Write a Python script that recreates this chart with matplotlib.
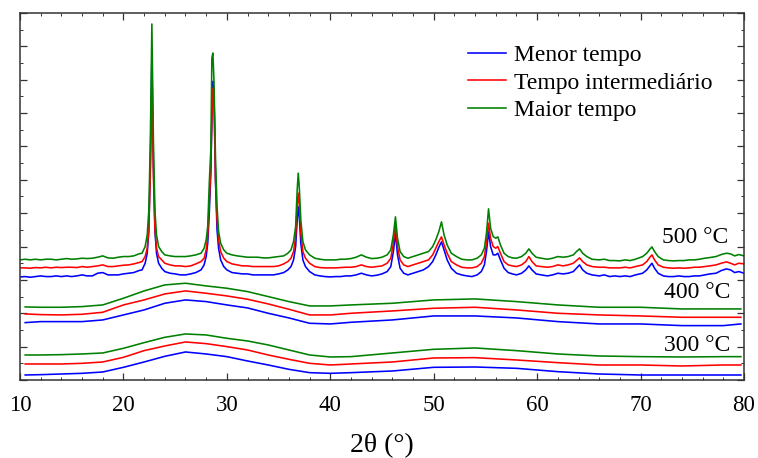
import matplotlib
matplotlib.use("Agg")
import matplotlib.pyplot as plt
from matplotlib.ticker import MultipleLocator

plt.rcParams['font.family'] = ['Liberation Serif', 'DejaVu Serif']
plt.rcParams['mathtext.fontset'] = 'stix'

# ---------------- data ----------------
series_labels = ["Menor tempo", "Tempo intermediário", "Maior tempo"]
series_colors = ["#0000ff", "#ff0000", "#008000"]
temp_labels = ["500 °C", "400 °C", "300 °C"]

# 500 °C patterns (crystalline) - shared 2theta grid
x500 = [10, 10.5, 11, 11.5, 12, 12.5, 13, 13.5, 14, 14.5, 15, 15.5, 16, 16.5, 17, 17.5, 18, 18.5, 19, 19.5, 20, 20.5, 21, 21.5,
        21.8, 22.1, 22.3, 22.45, 22.6, 22.75, 22.9, 23.05, 23.2, 23.4, 23.7, 24.0,
        24.5, 25, 25.5, 26, 26.5, 27, 27.5,
        27.8, 28.0, 28.15, 28.3, 28.45, 28.55, 28.65, 28.75, 28.9, 29.05, 29.2, 29.4, 29.7, 30.0,
        30.5, 31, 31.5, 32, 32.5, 33, 33.5, 34, 34.5, 35, 35.5,
        35.9, 36.2, 36.45, 36.65, 36.8, 36.9, 37.0, 37.15, 37.35, 37.6, 38.0,
        38.5, 39, 39.5, 40, 40.5, 41, 41.5, 42, 42.5, 43, 43.5, 44, 44.5, 45,
        45.5, 45.85, 46.1, 46.3, 46.5, 46.75, 47.1,
        47.5, 48, 48.5, 49,
        49.5, 49.9, 50.2, 50.5, 50.75, 51.0, 51.3, 51.7, 52.2,
        52.7, 53.2, 53.7, 54.2,
        54.6, 54.9, 55.1, 55.3, 55.5, 55.75, 56.0, 56.2, 56.45, 56.8, 57.2,
        57.6, 58.0, 58.5,
        58.9, 59.2, 59.5, 59.9,
        60.4, 61, 61.5, 62, 62.5, 63,
        63.5, 63.8, 64.1, 64.4, 64.8,
        65.3, 66, 66.5, 67, 67.5, 68, 68.5, 69, 69.5,
        70.2, 70.6, 70.9, 71.1, 71.35, 71.7, 72.2,
        72.7, 73.2, 73.7, 74.2, 74.7, 75.2, 75.7, 76.2, 76.7,
        77.3, 77.8, 78.3, 78.7, 79.1, 79.5, 80.0]

y500_menor = [3.09, 3.10, 3.08, 3.10, 3.12, 3.10, 3.10, 3.12, 3.10, 3.12, 3.10, 3.12, 3.15, 3.12, 3.12, 3.20, 3.22, 3.15, 3.15, 3.15, 3.18, 3.20, 3.22, 3.28,
              3.30, 3.50, 3.80, 4.45, 6.40, 9.68, 6.40, 4.45, 3.80, 3.50, 3.35, 3.25,
              3.20, 3.18, 3.15, 3.15, 3.18, 3.22, 3.30,
              3.45, 3.70, 4.10, 5.00, 6.20, 7.80, 8.95, 8.70, 6.00, 4.50, 3.95, 3.60, 3.40, 3.30,
              3.22, 3.20, 3.18, 3.18, 3.15, 3.15, 3.15, 3.15, 3.15, 3.18, 3.22,
              3.30, 3.40, 3.60, 4.00, 4.80, 5.19, 4.90, 4.10, 3.60, 3.40, 3.25,
              3.15, 3.12, 3.10, 3.09, 3.10, 3.10, 3.12, 3.12, 3.15, 3.20, 3.15, 3.12, 3.14, 3.18,
              3.25, 3.40, 3.85, 4.40, 3.75, 3.35, 3.20,
              3.15, 3.20, 3.25, 3.30,
              3.40, 3.55, 3.75, 3.98, 4.14, 3.90, 3.60, 3.35, 3.20,
              3.15, 3.12, 3.10, 3.15,
              3.25, 3.45, 3.85, 4.44, 4.00, 3.75, 3.75, 3.80, 3.60, 3.35, 3.22,
              3.18, 3.15, 3.20,
              3.30, 3.42, 3.30, 3.18,
              3.15, 3.12, 3.15, 3.20, 3.18, 3.20,
              3.25, 3.35, 3.45, 3.30, 3.20,
              3.15, 3.12, 3.15, 3.10, 3.12, 3.10, 3.12, 3.10, 3.15,
              3.20, 3.30, 3.42, 3.50, 3.35, 3.20, 3.12,
              3.10, 3.10, 3.12, 3.10, 3.10, 3.12, 3.12, 3.15, 3.18,
              3.20, 3.28, 3.33, 3.30, 3.22, 3.25, 3.20]

y500_inter = [3.36, 3.36, 3.35, 3.37, 3.36, 3.38, 3.36, 3.38, 3.37, 3.38, 3.38, 3.37, 3.40, 3.38, 3.40, 3.42, 3.45, 3.40, 3.40, 3.42, 3.44, 3.45, 3.48, 3.52,
              3.55, 3.70, 3.95, 4.50, 6.10, 8.84, 6.10, 4.50, 3.95, 3.70, 3.60, 3.50,
              3.45, 3.42, 3.42, 3.40, 3.42, 3.48, 3.55,
              3.65, 3.90, 4.30, 5.30, 6.40, 7.80, 8.75, 8.60, 6.00, 4.80, 4.20, 3.85, 3.65, 3.55,
              3.48, 3.45, 3.42, 3.42, 3.40, 3.40, 3.40, 3.40, 3.40, 3.42, 3.48,
              3.55, 3.65, 3.85, 4.30, 5.20, 5.60, 5.30, 4.40, 3.85, 3.65, 3.50,
              3.40, 3.37, 3.36, 3.36, 3.36, 3.37, 3.38, 3.38, 3.40, 3.45, 3.40, 3.38, 3.40, 3.42,
              3.50, 3.65, 4.10, 4.65, 4.00, 3.60, 3.45,
              3.40, 3.45, 3.50, 3.55,
              3.60, 3.75, 3.95, 4.15, 4.29, 4.05, 3.80, 3.55, 3.45,
              3.38, 3.36, 3.36, 3.40,
              3.50, 3.70, 4.10, 4.70, 4.25, 4.00, 3.95, 4.00, 3.80, 3.55, 3.45,
              3.42, 3.40, 3.45,
              3.55, 3.70, 3.55, 3.42,
              3.40, 3.38, 3.40, 3.45, 3.42, 3.45,
              3.50, 3.58, 3.66, 3.55, 3.45,
              3.40, 3.38, 3.38, 3.36, 3.36, 3.36, 3.38, 3.36, 3.40,
              3.45, 3.55, 3.68, 3.75, 3.60, 3.45, 3.38,
              3.36, 3.35, 3.36, 3.35, 3.36, 3.38, 3.38, 3.40, 3.42,
              3.45, 3.50, 3.54, 3.50, 3.45, 3.50, 3.48]

y500_maior = [3.60, 3.62, 3.60, 3.62, 3.60, 3.62, 3.62, 3.60, 3.62, 3.64, 3.62, 3.63, 3.65, 3.64, 3.65, 3.68, 3.72, 3.66, 3.65, 3.68, 3.70, 3.70, 3.72, 3.78,
              3.80, 4.00, 4.35, 5.05, 7.15, 10.67, 7.15, 5.05, 4.35, 4.00, 3.85, 3.75,
              3.72, 3.70, 3.70, 3.70, 3.72, 3.75, 3.80,
              3.95, 4.20, 4.60, 5.90, 6.90, 9.65, 9.80, 9.00, 6.70, 5.20, 4.45, 4.10, 3.90, 3.80,
              3.75, 3.72, 3.70, 3.68, 3.68, 3.68, 3.66, 3.66, 3.68, 3.70, 3.72,
              3.80, 3.90, 4.15, 4.60, 5.70, 6.20, 5.80, 4.80, 4.15, 3.90, 3.75,
              3.65, 3.62, 3.60, 3.60, 3.60, 3.62, 3.62, 3.64, 3.68, 3.75, 3.68, 3.64, 3.65, 3.68,
              3.75, 3.90, 4.35, 4.89, 4.25, 3.85, 3.70,
              3.65, 3.70, 3.75, 3.80,
              3.85, 4.00, 4.20, 4.45, 4.74, 4.35, 4.05, 3.80, 3.70,
              3.62, 3.60, 3.60, 3.65,
              3.75, 3.95, 4.40, 5.13, 4.55, 4.30, 4.25, 4.29, 4.05, 3.80, 3.70,
              3.66, 3.65, 3.70,
              3.80, 3.93, 3.80, 3.68,
              3.65, 3.62, 3.65, 3.70, 3.68, 3.70,
              3.75, 3.85, 3.93, 3.80, 3.70,
              3.62, 3.60, 3.62, 3.58, 3.58, 3.57, 3.60, 3.58, 3.62,
              3.70, 3.80, 3.92, 3.99, 3.85, 3.70, 3.60,
              3.58, 3.57, 3.58, 3.58, 3.60, 3.60, 3.62, 3.65, 3.67,
              3.70, 3.76, 3.80, 3.78, 3.72, 3.76, 3.72]

# 400 °C and 300 °C patterns (amorphous) - shared grid
x_amorph = [10.5, 12, 14, 16, 18, 20, 22, 24, 26, 28, 30, 32, 34, 36, 38, 40, 42, 46, 50, 54, 58, 62, 66, 70, 74, 78, 79.7]

y400_menor = [1.72, 1.75, 1.75, 1.75, 1.80, 1.95, 2.10, 2.30, 2.40, 2.35, 2.25, 2.16, 2.00, 1.86, 1.70, 1.68, 1.73, 1.80, 1.92, 1.92, 1.86, 1.75, 1.68, 1.68, 1.63, 1.63, 1.68]
y400_inter = [1.98, 1.96, 1.95, 1.97, 2.03, 2.25, 2.40, 2.58, 2.67, 2.60, 2.52, 2.42, 2.28, 2.12, 1.95, 1.95, 2.00, 2.07, 2.15, 2.18, 2.10, 2.00, 1.95, 1.92, 1.88, 1.88, 1.88]
y400_maior = [2.19, 2.18, 2.18, 2.20, 2.25, 2.45, 2.67, 2.85, 2.90, 2.82, 2.75, 2.65, 2.50, 2.35, 2.22, 2.22, 2.25, 2.30, 2.40, 2.43, 2.35, 2.25, 2.18, 2.18, 2.13, 2.13, 2.13]

y300_menor = [0.15, 0.16, 0.18, 0.20, 0.24, 0.38, 0.54, 0.71, 0.84, 0.78, 0.70, 0.57, 0.45, 0.32, 0.22, 0.20, 0.22, 0.27, 0.38, 0.39, 0.35, 0.25, 0.18, 0.15, 0.15, 0.15, 0.15]
y300_inter = [0.48, 0.48, 0.48, 0.50, 0.54, 0.68, 0.88, 1.02, 1.14, 1.09, 1.00, 0.90, 0.75, 0.62, 0.50, 0.45, 0.48, 0.54, 0.66, 0.67, 0.60, 0.52, 0.45, 0.45, 0.42, 0.45, 0.45]
y300_maior = [0.75, 0.75, 0.76, 0.78, 0.81, 0.95, 1.12, 1.28, 1.38, 1.35, 1.25, 1.17, 1.05, 0.90, 0.75, 0.69, 0.70, 0.81, 0.92, 0.96, 0.88, 0.78, 0.72, 0.70, 0.69, 0.70, 0.70]

# ---------------- figure ----------------
fig = plt.figure(figsize=(7.58, 4.58), dpi=100)
ax = fig.add_axes([20/758, 1 - 380/458, 724/758, 367/458])

groups = [
    (x500, [y500_menor, y500_inter, y500_maior]),
    (x_amorph, [y400_menor, y400_inter, y400_maior]),
    (x_amorph, [y300_menor, y300_inter, y300_maior]),
]
for gi, (xs, ys) in enumerate(groups):
    for si, y in enumerate(ys):
        ax.plot(xs, y, color=series_colors[si], lw=1.15,
                label=series_labels[si] if gi == 0 else None)

ax.set_xlim(10, 80)
ax.set_ylim(0, 11)
ax.xaxis.set_major_locator(MultipleLocator(10))
ax.xaxis.set_minor_locator(MultipleLocator(2))
ax.yaxis.set_major_locator(MultipleLocator(1))
ax.yaxis.set_minor_locator(MultipleLocator(0.5))
ax.tick_params(which='both', direction='in', top=True, right=True, color='#333333')
ax.tick_params(which='major', length=5, width=0.9)
ax.tick_params(which='minor', length=2.5, width=0.7)
ax.tick_params(axis='x', labelsize=16.5, pad=11)
ax.tick_params(axis='y', labelleft=False)
for sp in ax.spines.values():
    sp.set_color('#333333')
    sp.set_linewidth(1.1)

ax.set_xlabel("2θ (°)", fontsize=20, labelpad=12)

# temperature labels
temp_pos = [(78.5, 4.28), (78.7, 2.63), (78.7, 1.02)]
for t, (tx, ty) in zip(temp_labels, temp_pos):
    ax.text(tx, ty, t, fontsize=17, ha='right', va='center')

leg = ax.legend(loc='upper left', bbox_to_anchor=(0.606, 0.94), frameon=False,
                fontsize=17, handlelength=1.6, handletextpad=0.35, labelspacing=0.26,
                borderaxespad=0.0)

fig.savefig("out.png", dpi=100)
